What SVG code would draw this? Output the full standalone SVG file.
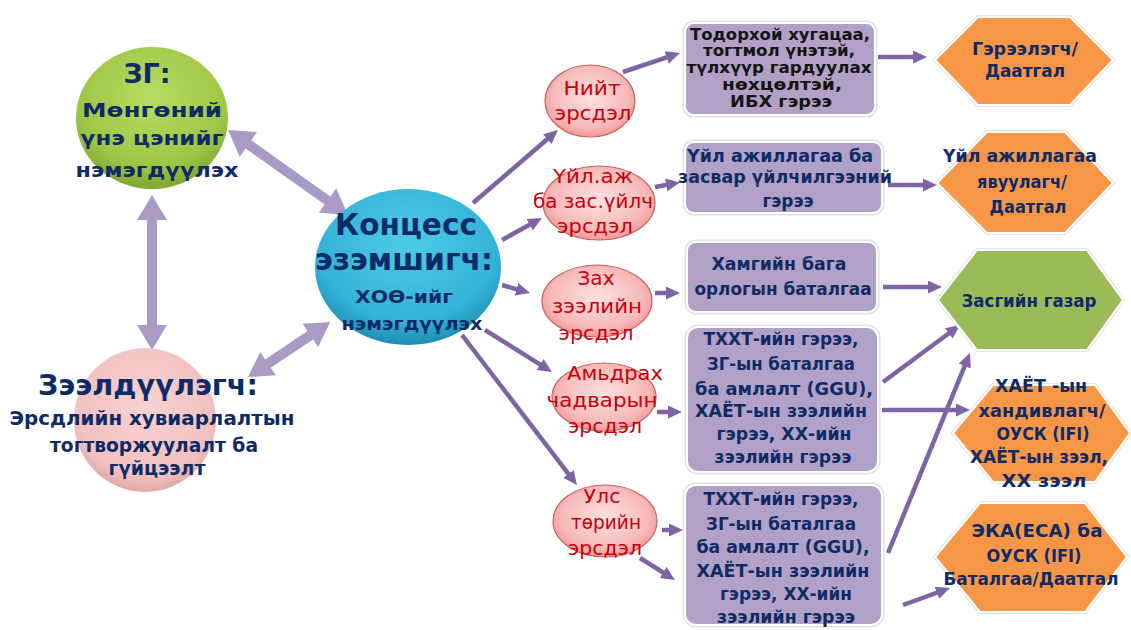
<svg xmlns="http://www.w3.org/2000/svg" width="1131" height="630" viewBox="0 0 1131 630">
  <style>
    .t { font-family: "DejaVu Sans", "Liberation Sans", sans-serif; font-weight: bold; text-anchor: middle; }
    .nv { fill: #0f2b66; }
    .bk { fill: #141414; }
    .rd { font-family: "DejaVu Sans", "Liberation Sans", sans-serif; fill: #c8000a; text-anchor: middle; font-size: 19px; }
    .box { fill: #b2a1c7; stroke: #ffffff; stroke-width: 2; }
    .halo { fill: none; stroke: #e2e2e2; stroke-width: 5; }
    .hexo { fill: #f79646; stroke: #ffffff; stroke-width: 2; }
    .hexg { fill: #9bbb59; stroke: #ffffff; stroke-width: 2; }
    .hhalo { fill: none; stroke: #e3e3e3; stroke-width: 4; stroke-linejoin: round; }
    .risk { fill: url(#gRisk); stroke: #c9605c; stroke-width: 1.2; }
    .ln { stroke: #7f63a3; stroke-width: 4.5; fill: none; marker-end: url(#head); }
    .dbl { fill: #a99ac6; }
  </style>
  <defs>
    <marker id="head" viewBox="0 0 14 13" refX="4" refY="6.5" markerWidth="14" markerHeight="13" markerUnits="userSpaceOnUse" orient="auto">
      <path d="M0,0 L14,6.5 L0,13 Z" fill="#7f63a3"/>
    </marker>
    <radialGradient id="gGreen" cx="50%" cy="35%" r="65%">
      <stop offset="0" stop-color="#b8dc62"/>
      <stop offset="0.75" stop-color="#9ec646"/>
      <stop offset="1" stop-color="#7fa534"/>
    </radialGradient>
    <radialGradient id="gPink" cx="50%" cy="40%" r="62%">
      <stop offset="0" stop-color="#f8d2d2"/>
      <stop offset="0.8" stop-color="#f2c0c0"/>
      <stop offset="1" stop-color="#dfa2a2"/>
    </radialGradient>
    <radialGradient id="gBlue" cx="50%" cy="35%" r="65%">
      <stop offset="0" stop-color="#4fc9e8"/>
      <stop offset="0.75" stop-color="#33b3d8"/>
      <stop offset="1" stop-color="#1f8fb5"/>
    </radialGradient>
    <radialGradient id="gRisk" cx="50%" cy="45%" r="60%">
      <stop offset="0" stop-color="#fde0e0"/>
      <stop offset="0.7" stop-color="#f7b9b9"/>
      <stop offset="1" stop-color="#ee8c8c"/>
    </radialGradient>
  </defs>

  <!-- connectors -->
  <g id="connectors">
    <!-- two-headed links between the three parties (drawn along +x, then placed) -->
    <polygon class="dbl" transform="translate(228,130) rotate(35.3)" points="0,0 25,-15 25,-5 122,-5 122,-15 147,0 122,15 122,5 25,5 25,15"/>
    <polygon class="dbl" transform="translate(152,195) rotate(90)" points="0,0 25,-15 25,-5 130,-5 130,-15 155,0 130,15 130,5 25,5 25,15"/>
    <polygon class="dbl" transform="translate(248,377) rotate(-33.8)" points="0,0 24,-14 24,-5 75,-5 75,-14 99,0 75,14 75,5 24,5 24,14"/>

    <!-- concession holder to risks -->
    <line class="ln" x1="473" y1="203" x2="550.4" y2="136.5"/>
    <line class="ln" x1="502" y1="240" x2="533.2" y2="222.8"/>
    <line class="ln" x1="502" y1="285" x2="520.4" y2="290.3"/>
    <line class="ln" x1="485" y1="330" x2="543.5" y2="366.7"/>
    <line class="ln" x1="462" y1="335" x2="570.9" y2="477.1"/>

    <!-- risks to instruments -->
    <line class="ln" x1="623" y1="72" x2="670.5" y2="56.2"/>
    <line class="ln" x1="655" y1="187" x2="670.1" y2="184.2"/>
    <line class="ln" x1="655" y1="293" x2="670" y2="293"/>
    <line class="ln" x1="657" y1="412" x2="672" y2="412"/>
    <line class="ln" x1="662" y1="530" x2="673" y2="530"/>
    <line class="ln" x1="640" y1="558" x2="666.5" y2="574.7"/>

    <!-- instruments to bearers -->
    <line class="ln" x1="878" y1="57" x2="917" y2="57"/>
    <line class="ln" x1="888" y1="185" x2="927" y2="185"/>
    <line class="ln" x1="883" y1="287" x2="932" y2="287"/>
    <line class="ln" x1="883" y1="382" x2="952" y2="331"/>
    <line class="ln" x1="882" y1="410" x2="960" y2="410"/>
    <line class="ln" x1="888" y1="553" x2="966.2" y2="362.3"/>
    <line class="ln" x1="903" y1="605" x2="940.6" y2="591.4"/>
  </g>

  <!-- parties -->
  <g id="gov">
    <ellipse cx="152" cy="118" rx="76" ry="71" fill="url(#gGreen)"/>
    <text class="t nv" x="147" y="83" font-size="27">ЗГ:</text>
    <text class="t nv" x="152" y="117" font-size="20" textLength="140" lengthAdjust="spacingAndGlyphs">Мөнгөний</text>
    <text class="t nv" x="152" y="145" font-size="20" textLength="143" lengthAdjust="spacingAndGlyphs">үнэ цэнийг</text>
    <text class="t nv" x="157" y="177" font-size="20" textLength="163" lengthAdjust="spacingAndGlyphs">нэмэгдүүлэх</text>
  </g>

  <g id="lender">
    <ellipse cx="145" cy="420" rx="71" ry="72" fill="url(#gPink)"/>
    <text class="t nv" x="148" y="395" font-size="28" textLength="220" lengthAdjust="spacingAndGlyphs">Зээлдүүлэгч:</text>
    <text class="t nv" x="152" y="425" font-size="20" textLength="285" lengthAdjust="spacingAndGlyphs">Эрсдлийн хувиарлалтын</text>
    <text class="t nv" x="154" y="452" font-size="20" textLength="208" lengthAdjust="spacingAndGlyphs">тогтворжуулалт ба</text>
    <text class="t nv" x="157" y="475" font-size="20" textLength="97" lengthAdjust="spacingAndGlyphs">гүйцээлт</text>
  </g>

  <g id="concessionaire">
    <ellipse cx="408" cy="267" rx="93" ry="78" fill="url(#gBlue)"/>
    <text class="t nv" x="406" y="235" font-size="30" textLength="142" lengthAdjust="spacingAndGlyphs">Концесс</text>
    <text class="t nv" x="404" y="270" font-size="30" textLength="178" lengthAdjust="spacingAndGlyphs">эзэмшигч:</text>
    <text class="t nv" x="404" y="303" font-size="18" textLength="98" lengthAdjust="spacingAndGlyphs">ХОӨ-ийг</text>
    <text class="t nv" x="412" y="330" font-size="18" textLength="141" lengthAdjust="spacingAndGlyphs">нэмэгдүүлэх</text>
  </g>

  <!-- risks -->
  <g id="risk-total">
    <ellipse class="risk" cx="590" cy="101" rx="45" ry="36"/>
    <text class="rd" x="592" y="95" textLength="57" lengthAdjust="spacingAndGlyphs">Нийт</text>
    <text class="rd" x="593" y="120" textLength="77" lengthAdjust="spacingAndGlyphs">эрсдэл</text>
  </g>
  <g id="risk-operation">
    <ellipse class="risk" cx="599" cy="203" rx="56" ry="37"/>
    <text class="rd" x="593" y="183" textLength="80" lengthAdjust="spacingAndGlyphs">Үйл.аж</text>
    <text class="rd" x="593" y="208" textLength="120" lengthAdjust="spacingAndGlyphs">ба зас.үйлч</text>
    <text class="rd" x="595" y="233" textLength="76" lengthAdjust="spacingAndGlyphs">эрсдэл</text>
  </g>
  <g id="risk-market">
    <ellipse class="risk" cx="597" cy="301" rx="55" ry="36"/>
    <text class="rd" x="596" y="285" textLength="37" lengthAdjust="spacingAndGlyphs">Зах</text>
    <text class="rd" x="597" y="313" textLength="90" lengthAdjust="spacingAndGlyphs">зээлийн</text>
    <text class="rd" x="596" y="340" textLength="75" lengthAdjust="spacingAndGlyphs">эрсдэл</text>
  </g>
  <g id="risk-viability">
    <ellipse class="risk" cx="604" cy="397" rx="52" ry="34"/>
    <text class="rd" x="615" y="380" textLength="96" lengthAdjust="spacingAndGlyphs">Амьдрах</text>
    <text class="rd" x="602" y="407" textLength="111" lengthAdjust="spacingAndGlyphs">чадварын</text>
    <text class="rd" x="605" y="433" textLength="74" lengthAdjust="spacingAndGlyphs">эрсдэл</text>
  </g>
  <g id="risk-political">
    <ellipse class="risk" cx="605" cy="521" rx="52" ry="36"/>
    <text class="rd" x="602" y="503" textLength="37" lengthAdjust="spacingAndGlyphs">Улс</text>
    <text class="rd" x="606" y="529" textLength="70" lengthAdjust="spacingAndGlyphs">төрийн</text>
    <text class="rd" x="605" y="555" textLength="74" lengthAdjust="spacingAndGlyphs">эрсдэл</text>
  </g>

  <!-- instruments -->
  <g id="box-epc">
    <rect class="halo" x="685" y="23" width="190" height="92" rx="9"/>
    <rect class="box" x="685" y="23" width="190" height="92" rx="9"/>
    <text class="t bk" x="780" y="40" font-size="15" textLength="180" lengthAdjust="spacingAndGlyphs">Тодорхой хугацаа,</text>
    <text class="t bk" x="779" y="56" font-size="15" textLength="152" lengthAdjust="spacingAndGlyphs">тогтмол үнэтэй,</text>
    <text class="t bk" x="779" y="73" font-size="15" textLength="185" lengthAdjust="spacingAndGlyphs">түлхүүр гардуулах</text>
    <text class="t bk" x="782" y="90" font-size="15" textLength="120" lengthAdjust="spacingAndGlyphs">нөхцөлтэй,</text>
    <text class="t bk" x="781" y="107" font-size="15" textLength="102" lengthAdjust="spacingAndGlyphs">ИБХ гэрээ</text>
  </g>
  <g id="box-om">
    <rect class="halo" x="685" y="142" width="197" height="71" rx="9"/>
    <rect class="box" x="685" y="142" width="197" height="71" rx="9"/>
    <text class="t nv" x="780" y="162" font-size="18" textLength="186" lengthAdjust="spacingAndGlyphs">Үйл ажиллагаа ба</text>
    <text class="t nv" x="785" y="183" font-size="18" textLength="214" lengthAdjust="spacingAndGlyphs">засвар үйлчилгээний</text>
    <text class="t nv" x="788" y="207" font-size="18" textLength="51" lengthAdjust="spacingAndGlyphs">гэрээ</text>
  </g>
  <g id="box-revenue">
    <rect class="halo" x="687" y="242" width="190" height="70" rx="9"/>
    <rect class="box" x="687" y="242" width="190" height="70" rx="9"/>
    <text class="t nv" x="779" y="270" font-size="18" textLength="135" lengthAdjust="spacingAndGlyphs">Хамгийн бага</text>
    <text class="t nv" x="783" y="295" font-size="18" textLength="177" lengthAdjust="spacingAndGlyphs">орлогын баталгаа</text>
  </g>
  <g id="box-viability">
    <rect class="halo" x="687" y="327" width="191" height="145" rx="11"/>
    <rect class="box" x="687" y="327" width="191" height="145" rx="11"/>
    <text class="t nv" x="781" y="345" font-size="18" textLength="155" lengthAdjust="spacingAndGlyphs">ТХХТ-ийн гэрээ,</text>
    <text class="t nv" x="781" y="370" font-size="18" textLength="148" lengthAdjust="spacingAndGlyphs">ЗГ-ын баталгаа</text>
    <text class="t nv" x="784" y="395" font-size="18" textLength="178" lengthAdjust="spacingAndGlyphs">ба амлалт (GGU),</text>
    <text class="t nv" x="781" y="417" font-size="18" textLength="172" lengthAdjust="spacingAndGlyphs">ХАЁТ-ын зээлийн</text>
    <text class="t nv" x="784" y="440" font-size="18" textLength="135" lengthAdjust="spacingAndGlyphs">гэрээ, ХХ-ийн</text>
    <text class="t nv" x="783" y="463" font-size="18" textLength="137" lengthAdjust="spacingAndGlyphs">зээлийн гэрээ</text>
  </g>
  <g id="box-political">
    <rect class="halo" x="685" y="485" width="197" height="140" rx="11"/>
    <rect class="box" x="685" y="485" width="197" height="140" rx="11"/>
    <text class="t nv" x="781" y="505" font-size="18" textLength="155" lengthAdjust="spacingAndGlyphs">ТХХТ-ийн гэрээ,</text>
    <text class="t nv" x="781" y="530" font-size="18" textLength="150" lengthAdjust="spacingAndGlyphs">ЗГ-ын баталгаа</text>
    <text class="t nv" x="783" y="553" font-size="18" textLength="173" lengthAdjust="spacingAndGlyphs">ба амлалт (GGU),</text>
    <text class="t nv" x="783" y="577" font-size="18" textLength="173" lengthAdjust="spacingAndGlyphs">ХАЁТ-ын зээлийн</text>
    <text class="t nv" x="786" y="600" font-size="18" textLength="132" lengthAdjust="spacingAndGlyphs">гэрээ, ХХ-ийн</text>
    <text class="t nv" x="786" y="623" font-size="18" textLength="138" lengthAdjust="spacingAndGlyphs">зээлийн гэрээ</text>
  </g>

  <!-- risk bearers -->
  <g id="hex-contractor">
    <polygon class="hhalo" points="935,60 978,17 1070,17 1113,60 1070,105 978,105"/>
    <polygon class="hexo" points="935,60 978,17 1070,17 1113,60 1070,105 978,105"/>
    <text class="t nv" x="1025" y="55" font-size="17" textLength="106" lengthAdjust="spacingAndGlyphs">Гэрээлэгч/</text>
    <text class="t nv" x="1025" y="77" font-size="17" textLength="80" lengthAdjust="spacingAndGlyphs">Даатгал</text>
  </g>
  <g id="hex-operator">
    <polygon class="hhalo" points="937,183 987,132 1065,132 1113,183 1065,233 987,233"/>
    <polygon class="hexo" points="937,183 987,132 1065,132 1113,183 1065,233 987,233"/>
    <text class="t nv" x="1020" y="162" font-size="17" textLength="154" lengthAdjust="spacingAndGlyphs">Үйл ажиллагаа</text>
    <text class="t nv" x="1022" y="188" font-size="17" textLength="90" lengthAdjust="spacingAndGlyphs">явуулагч/</text>
    <text class="t nv" x="1028" y="213" font-size="17" textLength="77" lengthAdjust="spacingAndGlyphs">Даатгал</text>
  </g>
  <g id="hex-government">
    <polygon class="hhalo" points="938,300 977,250 1087,250 1123,300 1087,350 977,350"/>
    <polygon class="hexg" points="938,300 977,250 1087,250 1123,300 1087,350 977,350"/>
    <text class="t nv" x="1029" y="307" font-size="17" textLength="135" lengthAdjust="spacingAndGlyphs">Засгийн газар</text>
  </g>
  <g id="hex-donor">
    <polygon class="hhalo" points="953,433 993,385 1095,385 1130,433 1095,482 993,482"/>
    <polygon class="hexo" points="953,433 993,385 1095,385 1130,433 1095,482 993,482"/>
    <text class="t nv" x="1041" y="392" font-size="17" textLength="92" lengthAdjust="spacingAndGlyphs">ХАЁТ -ын</text>
    <text class="t nv" x="1042" y="417" font-size="17" textLength="127" lengthAdjust="spacingAndGlyphs">хандивлагч/</text>
    <text class="t nv" x="1043" y="440" font-size="17" textLength="93" lengthAdjust="spacingAndGlyphs">ОУСК (IFI)</text>
    <text class="t nv" x="1039" y="463" font-size="17" textLength="138" lengthAdjust="spacingAndGlyphs">ХАЁТ-ын зээл,</text>
    <text class="t nv" x="1044" y="487" font-size="17" textLength="85" lengthAdjust="spacingAndGlyphs">ХХ зээл</text>
  </g>
  <g id="hex-eca">
    <polygon class="hhalo" points="935,557 980,503 1085,503 1127,557 1085,612 980,612"/>
    <polygon class="hexo" points="935,557 980,503 1085,503 1127,557 1085,612 980,612"/>
    <text class="t nv" x="1037" y="537" font-size="17" textLength="131" lengthAdjust="spacingAndGlyphs">ЭКА(ЕСА) ба</text>
    <text class="t nv" x="1034" y="562" font-size="17" textLength="95" lengthAdjust="spacingAndGlyphs">ОУСК (IFI)</text>
    <text class="t nv" x="1031" y="585" font-size="17" textLength="175" lengthAdjust="spacingAndGlyphs">Баталгаа/Даатгал</text>
  </g>
</svg>
